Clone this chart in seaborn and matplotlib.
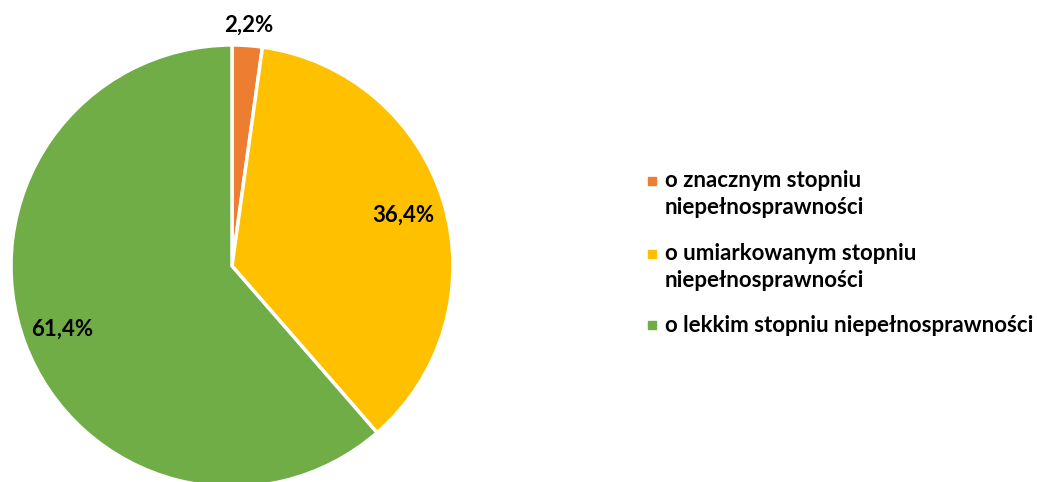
import numpy as np
import matplotlib.pyplot as plt
import seaborn as sns
from matplotlib.lines import Line2D
from matplotlib.legend_handler import HandlerLine2D

# Data
categories = ['o znacznym stopniu\nniepełnosprawności',
              'o umiarkowanym stopniu\nniepełnosprawności',
              'o lekkim stopniu niepełnosprawności']
shares = [2.2, 36.4, 61.4]
colors = ['#ED7D31', '#FFC000', '#70AD47']

sns.set_style('white')
plt.rcParams['font.family'] = ['Lato', 'DejaVu Sans']


class FirstLineHandler(HandlerLine2D):
    # put the legend marker next to the first line of a wrapped label
    def __init__(self, shift, **kw):
        super().__init__(**kw)
        self.shift = shift

    def create_artists(self, legend, orig_handle, xdescent, ydescent,
                       width, height, fontsize, trans):
        return super().create_artists(legend, orig_handle, xdescent, ydescent,
                                      width, height + 2 * self.shift,
                                      fontsize, trans)


W, H = 1037, 482
fig = plt.figure(figsize=(W / 100, H / 100), dpi=100)
ax = fig.add_axes([0, 0, 1, 1])

cx, cy, r = 232, H - 266, 221
wedges, _ = ax.pie(shares, colors=colors, startangle=90, counterclock=False,
                   center=(cx, cy), radius=r, frame=True,
                   wedgeprops=dict(edgecolor='white', linewidth=2.5))
ax.set_xlim(0, W)
ax.set_ylim(0, H)
ax.set_aspect('equal')
ax.axis('off')

# value labels
label_dist = [1.09, 0.81, 0.82]
for w, v, d in zip(wedges, shares, label_dist):
    ang = np.deg2rad((w.theta1 + w.theta2) / 2)
    ax.text(cx + d * r * np.cos(ang), cy + d * r * np.sin(ang),
            f'{v:.1f}'.replace('.', ',') + '%',
            ha='center', va='center', fontsize=16, fontweight='bold', color='black')

handles = [Line2D([], [], marker='s', linestyle='none', markersize=6,
                  markerfacecolor=c, markeredgecolor=c) for c in colors]
hmap = {h: FirstLineHandler(9.7 * lab.count('\n')) for h, lab in zip(handles, categories)}
leg = ax.legend(handles, categories, loc='center left', handler_map=hmap,
                bbox_to_anchor=(646 / W, (H - 253) / H), frameon=False,
                prop={'size': 16, 'weight': 'bold'}, labelcolor='black',
                handlelength=0.5, handletextpad=0.35, labelspacing=1.08,
                borderpad=0, borderaxespad=0)
for t in leg.get_texts():
    t.set_linespacing(1.4)

fig.savefig('out.png', dpi=100)
